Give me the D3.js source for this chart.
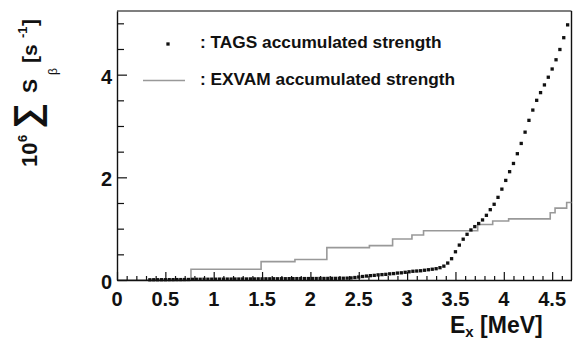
<!DOCTYPE html>
<html>
<head>
<meta charset="utf-8">
<script src="https://cdn.jsdelivr.net/npm/d3@7"></script>
<style>
  html, body { margin: 0; padding: 0; background: #fff; }
  svg { display: block; font-family: "Liberation Sans", Arial, Helvetica, sans-serif; font-weight: bold; }
</style>
</head>
<body>
<svg id="chart" width="578" height="341"></svg>
<script>
// TAGS accumulated strength: bin centres (MeV) and cumulative values (10^6 s^-1)
const tagsEnergy = [
  0.34, 0.38, 0.42, 0.46, 0.50, 0.54, 0.58, 0.62, 0.66, 0.70,
  0.74, 0.78, 0.82, 0.86, 0.90, 0.94, 0.98, 1.02, 1.06, 1.10,
  1.14, 1.18, 1.22, 1.26, 1.30, 1.34, 1.38, 1.42, 1.46, 1.50,
  1.54, 1.58, 1.62, 1.66, 1.70, 1.74, 1.78, 1.82, 1.86, 1.90,
  1.94, 1.98, 2.02, 2.06, 2.10, 2.14, 2.18, 2.22, 2.26, 2.30,
  2.34, 2.38, 2.42, 2.46, 2.50, 2.54, 2.58, 2.62, 2.66, 2.70,
  2.74, 2.78, 2.82, 2.86, 2.90, 2.94, 2.98, 3.02, 3.06, 3.10,
  3.14, 3.18, 3.22, 3.26, 3.30, 3.34, 3.38, 3.42, 3.46, 3.50,
  3.54, 3.58, 3.62, 3.66, 3.70, 3.74, 3.78, 3.82, 3.86, 3.90,
  3.94, 3.98, 4.02, 4.06, 4.10, 4.14, 4.18, 4.22, 4.26, 4.30,
  4.34, 4.38, 4.42, 4.46, 4.50, 4.54, 4.58, 4.62, 4.66
];
const tagsStrength = [
  0.004, 0.005, 0.005, 0.006, 0.006, 0.007, 0.007, 0.008, 0.008, 0.009,
  0.010, 0.013, 0.014, 0.014, 0.015, 0.015, 0.016, 0.016, 0.017, 0.017,
  0.018, 0.018, 0.019, 0.019, 0.020, 0.020, 0.021, 0.021, 0.022, 0.022,
  0.023, 0.023, 0.024, 0.024, 0.025, 0.025, 0.026, 0.026, 0.027, 0.027,
  0.028, 0.028, 0.029, 0.029, 0.030, 0.030, 0.031, 0.032, 0.032, 0.033,
  0.034, 0.036, 0.040, 0.048, 0.058, 0.068, 0.077, 0.085, 0.090, 0.100,
  0.105, 0.110, 0.120, 0.125, 0.135, 0.140, 0.150, 0.160, 0.170, 0.175,
  0.180, 0.190, 0.200, 0.210, 0.220, 0.240, 0.270, 0.330, 0.415, 0.550,
  0.680, 0.795, 0.890, 0.975, 1.040, 1.100, 1.170, 1.260, 1.370, 1.475,
  1.610, 1.770, 1.940, 2.110, 2.270, 2.460, 2.660, 2.880, 3.110, 3.310,
  3.500, 3.650, 3.800, 3.950, 4.110, 4.290, 4.490, 4.720, 4.970
];

// EXVAM accumulated strength: step thresholds (MeV) and level after each step
const exvamEnergy   = [0.00, 0.765, 1.49, 1.84, 2.17, 2.61, 2.85, 3.05, 3.17, 3.73, 3.885, 4.05, 4.48, 4.53, 4.65];
const exvamStrength = [0.00, 0.21, 0.357, 0.40, 0.63, 0.67, 0.80, 0.877, 0.96, 1.08, 1.15, 1.19, 1.31, 1.40, 1.51];

// Axis tick labels
const xTickValues = [0, 0.5, 1, 1.5, 2, 2.5, 3, 3.5, 4, 4.5];
const yTickValues = [0, 2, 4];

const legendLabels = [": TAGS accumulated strength", ": EXVAM accumulated strength"];

const xMax = 4.7, yMax = 5.24;
const frame = { left: 117, right: 571.5, top: 11, bottom: 280 };

const svg = d3.select("#chart");
const x = d3.scaleLinear().domain([0, xMax]).range([frame.left, frame.right]);
const y = d3.scaleLinear().domain([0, yMax]).range([frame.bottom, frame.top]);

// frame (top and right)
svg.append("line").attr("x1", frame.left).attr("x2", frame.right)
  .attr("y1", frame.top).attr("y2", frame.top)
  .attr("stroke", "#555").attr("stroke-width", 1.4);
svg.append("line").attr("x1", frame.right).attr("x2", frame.right)
  .attr("y1", frame.top).attr("y2", frame.bottom)
  .attr("stroke", "#111").attr("stroke-width", 1.4);

// EXVAM step line
const stepLine = d3.line()
  .x(d => x(d[0])).y(d => y(d[1]))
  .curve(d3.curveStepAfter);
const exvamPts = exvamEnergy.map((e, i) => [e, exvamStrength[i]]);
exvamPts.push([xMax, exvamStrength[exvamStrength.length - 1]]);
svg.append("path")
  .attr("d", stepLine(exvamPts))
  .attr("fill", "none").attr("stroke", "#999").attr("stroke-width", 1.6);

// x axis: ticks pointing up into the frame
const xAxis = d3.axisBottom(x)
  .tickValues(d3.range(0, 47).map(i => i / 10))
  .tickSize(0).tickFormat("");
const gx = svg.append("g").attr("transform", `translate(0,${frame.bottom})`);
gx.call(xAxis);
gx.select(".domain").attr("stroke", "#111").attr("stroke-width", 1.4);
gx.selectAll(".tick line")
  .attr("y2", d => (Math.round(d * 10) % 5 === 0 ? -8 : -4))
  .attr("stroke", "#111").attr("stroke-width", 1.2);
svg.append("g").selectAll("text").data(xTickValues).join("text")
  .attr("x", d => x(d)).attr("y", 306)
  .attr("text-anchor", "middle").attr("font-size", 20).attr("fill", "#111")
  .text(d => d3.format("~g")(d));

// y axis: ticks pointing right into the frame
const yAxis = d3.axisLeft(y)
  .tickValues(d3.range(0, 11).map(i => i / 2))
  .tickSize(0).tickFormat("");
const gy = svg.append("g").attr("transform", `translate(${frame.left},0)`);
gy.call(yAxis);
gy.select(".domain").attr("stroke", "#111").attr("stroke-width", 1.4);
gy.selectAll(".tick line")
  .attr("x2", d => (d % 2 === 0 ? 10 : 7))
  .attr("stroke", "#111").attr("stroke-width", 1.2);
svg.append("g").selectAll("text").data(yTickValues).join("text")
  .attr("x", 112).attr("y", d => y(d) + 9)
  .attr("text-anchor", "end").attr("font-size", 20).attr("fill", "#111")
  .text(d => d);

// TAGS markers
const mk = 3.3;
svg.append("g").selectAll("rect").data(tagsEnergy).join("rect")
  .attr("x", (d) => x(d) - mk / 2)
  .attr("y", (d, i) => y(tagsStrength[i]) - mk / 2)
  .attr("width", mk).attr("height", mk)
  .attr("fill", "#111");

// legend
const lg = svg.append("g");
lg.append("rect").attr("x", 168 - mk / 2).attr("y", 44 - mk / 2)
  .attr("width", mk).attr("height", mk).attr("fill", "#111");
lg.append("line").attr("x1", 143).attr("x2", 185).attr("y1", 80.5).attr("y2", 80.5)
  .attr("stroke", "#999").attr("stroke-width", 1.6);
lg.selectAll("text").data(legendLabels).join("text")
  .attr("x", 200).attr("y", (d, i) => (i === 0 ? 48 : 84.5))
  .attr("font-size", 17.3).attr("fill", "#111")
  .text(d => d);

// x axis title
const xt = svg.append("text").attr("x", 450).attr("y", 333)
  .attr("font-size", 23).attr("fill", "#111");
xt.append("tspan").text("E");
xt.append("tspan").attr("font-size", 15).attr("dy", 4).text("x");
xt.append("tspan").attr("dy", -4).text(" [MeV]");

// y axis title (rotated)
const yt = svg.append("g").attr("transform", "translate(37,167) rotate(-90)")
  .attr("fill", "#111");
yt.append("text").attr("x", 0).attr("y", 0).attr("font-size", 22).text("10");
yt.append("text").attr("x", 25).attr("y", -10).attr("font-size", 13).text("6");
yt.append("text").attr("x", 38).attr("y", 2).attr("font-size", 36).text("\u2211");
yt.append("text").attr("x", 74).attr("y", 0).attr("font-size", 21).text("S");
yt.append("text").attr("x", 92).attr("y", 20).attr("font-size", 12).attr("font-weight", "normal").text("\u03b2");
yt.append("text").attr("x", 104).attr("y", 0).attr("font-size", 21).text("[s");
yt.append("text").attr("x", 129).attr("y", -10).attr("font-size", 13).text("-1");
yt.append("text").attr("x", 141).attr("y", 0).attr("font-size", 21).text("]");
</script>
</body>
</html>
